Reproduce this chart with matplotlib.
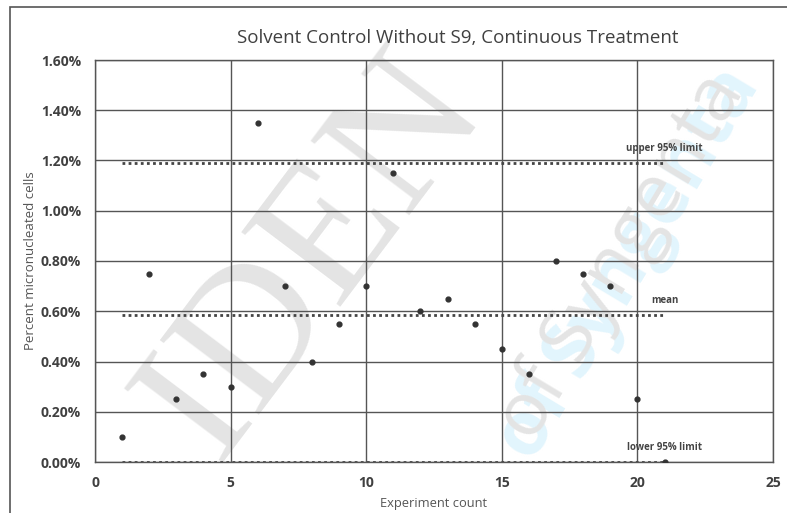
import numpy as np
import matplotlib
matplotlib.use("Agg")
import matplotlib.pyplot as plt
from matplotlib.ticker import FuncFormatter, MultipleLocator
from matplotlib.patches import Rectangle

# percent micronucleated cells per experiment
experiment = [1, 2, 3, 4, 5, 6, 7, 8, 9, 10, 11, 12, 13, 14, 15, 16, 17, 18, 19, 20, 21]
percent_mn = [0.10, 0.75, 0.25, 0.35, 0.30, 1.35, 0.70, 0.40, 0.55, 0.70, 1.15,
              0.60, 0.65, 0.55, 0.45, 0.35, 0.80, 0.75, 0.70, 0.25, 0.00]

# control limits drawn across the experiments
limit_names = ["upper 95% limit", "mean", "lower 95% limit"]
limit_values = [1.19, 0.585, 0.00]
limit_span = [1, 21]

plt.rcParams['font.family'] = ['Open Sans', 'DejaVu Sans']

fig = plt.figure(figsize=(7.87, 5.13), dpi=100)

# outer frame of the chart area
fig.add_artist(Rectangle((10 / 787, -0.1), 1.2, 1.1 - 7 / 513,
                         transform=fig.transFigure, fill=False,
                         edgecolor='#555555', linewidth=1.2, zorder=-2))

# background watermark, kept under the axes
fig.text(0.40, 0.50, "IDEN", family='Liberation Serif', fontsize=135,
         color='#e4e4e4', rotation=53, ha='center', va='center',
         rotation_mode='anchor', zorder=-1)
fig.text(0.80, 0.485, "of Syngenta", family='Open Sans', fontsize=54,
         fontweight='bold', color='#e2f5fd', rotation=59, ha='center',
         va='center', rotation_mode='anchor', zorder=-1)
fig.text(0.79, 0.50, "of Syngenta", family='Open Sans', fontsize=54,
         color='#e4e4e4', rotation=59, ha='center', va='center',
         rotation_mode='anchor', zorder=-1)

ax = fig.add_axes([95 / 787, 1 - 462 / 513, (773 - 95) / 787, (462 - 60) / 513])
ax.patch.set_alpha(0)

ax.scatter(experiment, percent_mn, s=12, color='#333333', zorder=3)

for name, val in zip(limit_names, limit_values):
    ax.plot(limit_span, [val, val], linestyle=(0, (1, 1.2)), color='#444444',
            linewidth=2.0, zorder=2)
    ax.text(21, val + 0.035, name, fontsize=7, fontweight='bold', color='#444444',
            ha='center', va='bottom')

ax.set_xlim(0, 25)
ax.set_ylim(0, 1.6)
ax.xaxis.set_major_locator(MultipleLocator(5))
ax.yaxis.set_major_locator(MultipleLocator(0.2))
ax.yaxis.set_major_formatter(FuncFormatter(lambda v, p: f"{v:.2f}%"))
ax.grid(True, color='#555555', linewidth=1.0)
ax.set_axisbelow(True)
for s in ax.spines.values():
    s.set_color('#555555')
    s.set_linewidth(1.0)
ax.tick_params(length=0, pad=10, labelsize=10, labelcolor='#404040')
for lab in ax.get_xticklabels() + ax.get_yticklabels():
    lab.set_fontweight('bold')

ax.set_xlabel("Experiment count", fontsize=9.3, color='#555555', labelpad=5)
ax.set_ylabel("Percent micronucleated cells", fontsize=9.5, color='#555555', labelpad=3)

fig.text(458 / 787, 1 - 38 / 513, "Solvent Control Without S9, Continuous Treatment",
         fontsize=13.5, color='#404040', ha='center', va='center')

fig.savefig("out.png", dpi=100)
